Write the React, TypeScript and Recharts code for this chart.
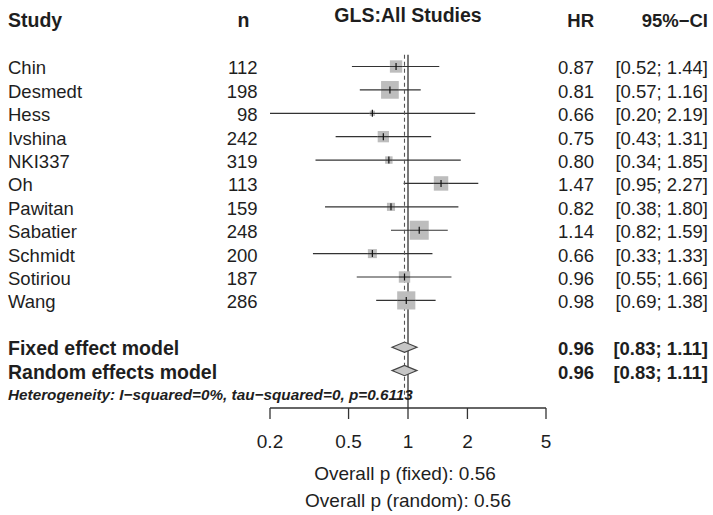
import React from 'react';
import { ComposedChart, XAxis, YAxis, Scatter, ReferenceLine, ReferenceDot } from 'recharts';

// ---------- data ----------
const studies = ['Chin', 'Desmedt', 'Hess', 'Ivshina', 'NKI337', 'Oh', 'Pawitan', 'Sabatier', 'Schmidt', 'Sotiriou', 'Wang'];
const sampleSizes = [112, 198, 98, 242, 319, 113, 159, 248, 200, 187, 286];
const hazardRatios = [0.87, 0.81, 0.66, 0.75, 0.8, 1.47, 0.82, 1.14, 0.66, 0.96, 0.98];
const ciLower = [0.52, 0.57, 0.2, 0.43, 0.34, 0.95, 0.38, 0.82, 0.33, 0.55, 0.69];
const ciUpper = [1.44, 1.16, 2.19, 1.31, 1.85, 2.27, 1.8, 1.59, 1.33, 1.66, 1.38];

const summaryLabels = ['Fixed effect model', 'Random effects model'];
const summaryHR = [0.96, 0.96];
const summaryLower = [0.83, 0.83];
const summaryUpper = [1.11, 1.11];

const axisTicks = [0.2, 0.5, 1, 2, 5];
const axisDomain = [0.2, 5];
const chartTitle = 'GLS:All Studies';
const headerStudy = 'Study';
const headerN = 'n';
const headerHR = 'HR';
const headerCI = '95%\u2212CI';
const heterogeneityText = 'Heterogeneity: I\u2212squared=0%, tau\u2212squared=0, p=0.6113';
const overallPFixed = 'Overall p (fixed): 0.56';
const overallPRandom = 'Overall p (random): 0.56';

// ---------- derived ----------
const fmt = (v: number) => v.toFixed(2);
const ciText = (lo: number, hi: number) => `[${fmt(lo)}; ${fmt(hi)}]`;

// inverse-variance weights from CI width -> box size proportional to sqrt(weight)
const weights = ciLower.map((lo, i) => {
  const se = Math.log(ciUpper[i] / lo) / (2 * 1.96);
  return 1 / (se * se);
});
const maxWeight = Math.max(...weights);
const MAX_BOX = 19;

const studyData = studies.map((name, i) => ({
  x: hazardRatios[i],
  y: i,
  name,
  n: sampleSizes[i],
  hr: hazardRatios[i],
  lo: ciLower[i],
  hi: ciUpper[i],
  size: MAX_BOX * Math.sqrt(weights[i] / maxWeight),
}));

const summaryStart = studies.length + 1;
const summaryData = summaryLabels.map((label, k) => ({
  x: summaryHR[k],
  y: summaryStart + k,
  label,
  hr: summaryHR[k],
  lo: summaryLower[k],
  hi: summaryUpper[k],
}));
const DIAMOND_HALF = 0.22;
const diamondData = summaryData.map((s) => [
  { x: s.lo, y: s.y },
  { x: s.hr, y: s.y - DIAMOND_HALF },
  { x: s.hi, y: s.y },
  { x: s.hr, y: s.y + DIAMOND_HALF },
]);
const heterogeneityRow = summaryStart + summaryLabels.length;

// ---------- style ----------
const FONT = '"Liberation Sans", Arial, Helvetica, sans-serif';
const TEXT = '#1e1e1e';
const LINE = '#333333';
const BOX = '#bdbdbd';
const FS = 18.5;
const FSB = 19.5;
const COL_STUDY = 8;
const COL_N = 257.5;
const COL_HR = 594;
const COL_CI = 708;

const BoxShape = (props: any) => {
  const { cx, cy, payload } = props;
  const s = payload.size;
  return (
    <g>
      <rect x={cx - s / 2} y={cy - s / 2} width={s} height={s} fill={BOX} />
      <line x1={cx - s / 2} x2={cx + s / 2} y1={cy} y2={cy} stroke={LINE} strokeWidth={1.2} />
      <line x1={cx} x2={cx} y1={cy - 3.5} y2={cy + 3.5} stroke="#111" strokeWidth={1.2} />
    </g>
  );
};

const studyText = (d: any) => (props: any) => {
  const { cy } = props;
  return (
    <g>
      <text x={COL_STUDY} y={cy + 8} fontFamily={FONT} fontSize={FS} fill={TEXT}>{d.name}</text>
      <text x={COL_N} y={cy + 8} fontFamily={FONT} fontSize={FS} fill={TEXT} textAnchor="end">{d.n}</text>
      <text x={COL_HR} y={cy + 8} fontFamily={FONT} fontSize={FS} fill={TEXT} textAnchor="end">{fmt(d.hr)}</text>
      <text x={COL_CI} y={cy + 8} fontFamily={FONT} fontSize={FS} fill={TEXT} textAnchor="end">{ciText(d.lo, d.hi)}</text>
    </g>
  );
};

const summaryText = (d: any) => (props: any) => {
  const { cy } = props;
  return (
    <g>
      <text x={COL_STUDY} y={cy + 8} fontFamily={FONT} fontSize={FSB} fontWeight="bold" fill={TEXT}>{d.label}</text>
      <text x={COL_HR} y={cy + 8} fontFamily={FONT} fontSize={FS} fontWeight="bold" fill={TEXT} textAnchor="end">{fmt(d.hr)}</text>
      <text x={COL_CI} y={cy + 8} fontFamily={FONT} fontSize={FS} fontWeight="bold" fill={TEXT} textAnchor="end">{ciText(d.lo, d.hi)}</text>
    </g>
  );
};

const HeterogeneityShape = (props: any) => {
  const { cy } = props;
  return (
    <text x={COL_STUDY} y={cy + 6} fontFamily={FONT} fontSize={15.3} fontWeight="bold" fontStyle="italic" fill={TEXT}>
      {heterogeneityText}
    </text>
  );
};

const DiamondLine = (p: any) => {
  const pts = (p.points || []).map((pt: any) => `${pt.x},${pt.y}`).join(' ');
  return <polygon points={pts} fill="#c6c6c6" stroke="#444" strokeWidth={1.2} />;
};

const Empty = () => <g />;

export default function App() {
  return (
    <div style={{ position: 'absolute', left: 0, top: 0, background: '#fff' }}>
      <ComposedChart
        width={713}
        height={515}
        margin={{ top: 54.8, right: 167, bottom: 77, left: 270 }}
      >
        <XAxis
          dataKey="x"
          type="number"
          scale="log"
          domain={axisDomain}
          allowDataOverflow
          ticks={axisTicks}
          tickFormatter={(v: number) => String(v)}
          height={30}
          axisLine={{ stroke: LINE, strokeWidth: 1.3 }}
          tickLine={{ stroke: LINE, strokeWidth: 1.3 }}
          tickSize={11}
          tickMargin={16}
          tick={{ fontFamily: FONT, fontSize: 19, fill: TEXT }}
          interval={0}
        />
        <YAxis dataKey="y" type="number" domain={[-0.5, 14.6]} allowDataOverflow reversed hide width={0} />

        {studyData.map((d) => (
          <ReferenceDot key={`txt-${d.name}`} x={1} y={d.y} ifOverflow="visible" shape={studyText(d)} />
        ))}
        {summaryData.map((d) => (
          <ReferenceDot key={`stxt-${d.label}`} x={1} y={d.y} ifOverflow="visible" shape={summaryText(d)} />
        ))}
        <ReferenceDot x={1} y={heterogeneityRow} ifOverflow="visible" shape={HeterogeneityShape} />

        {studyData.map((d) => (
          <ReferenceLine
            key={`ci-${d.name}`}
            segment={[{ x: d.lo, y: d.y }, { x: d.hi, y: d.y }]}
            stroke={LINE}
            strokeWidth={1.2}
            ifOverflow="visible"
          />
        ))}
        <ReferenceLine x={1} stroke={LINE} strokeWidth={1.3} ifOverflow="visible" />
        <ReferenceLine
          segment={[{ x: summaryHR[0], y: -0.5 }, { x: summaryHR[0], y: heterogeneityRow + 0.1 }]}
          stroke="#555"
          strokeWidth={1.1}
          strokeDasharray="4 3"
          ifOverflow="visible"
        />

        <Scatter data={studyData} shape={BoxShape} isAnimationActive={false} />
        {diamondData.map((dd, k) => (
          <Scatter
            key={`diamond-${k}`}
            data={dd}
            shape={Empty}
            line={DiamondLine}
            lineType="joint"
            isAnimationActive={false}
          />
        ))}

        <text x={408} y={22} textAnchor="middle" fontFamily={FONT} fontSize={FSB} fontWeight="bold" fill={TEXT}>{chartTitle}</text>
        <text x={COL_STUDY} y={27} fontFamily={FONT} fontSize={FSB} fontWeight="bold" fill={TEXT}>{headerStudy}</text>
        <text x={243.5} y={27} textAnchor="middle" fontFamily={FONT} fontSize={FSB} fontWeight="bold" fill={TEXT}>{headerN}</text>
        <text x={COL_HR} y={27} textAnchor="end" fontFamily={FONT} fontSize={FS} fontWeight="bold" fill={TEXT}>{headerHR}</text>
        <text x={COL_CI} y={27} textAnchor="end" fontFamily={FONT} fontSize={FS} fontWeight="bold" fill={TEXT}>{headerCI}</text>
        <text x={405} y={480} textAnchor="middle" fontFamily={FONT} fontSize={19} fill={TEXT}>{overallPFixed}</text>
        <text x={408} y={506.5} textAnchor="middle" fontFamily={FONT} fontSize={19} fill={TEXT}>{overallPRandom}</text>
      </ComposedChart>
    </div>
  );
}
